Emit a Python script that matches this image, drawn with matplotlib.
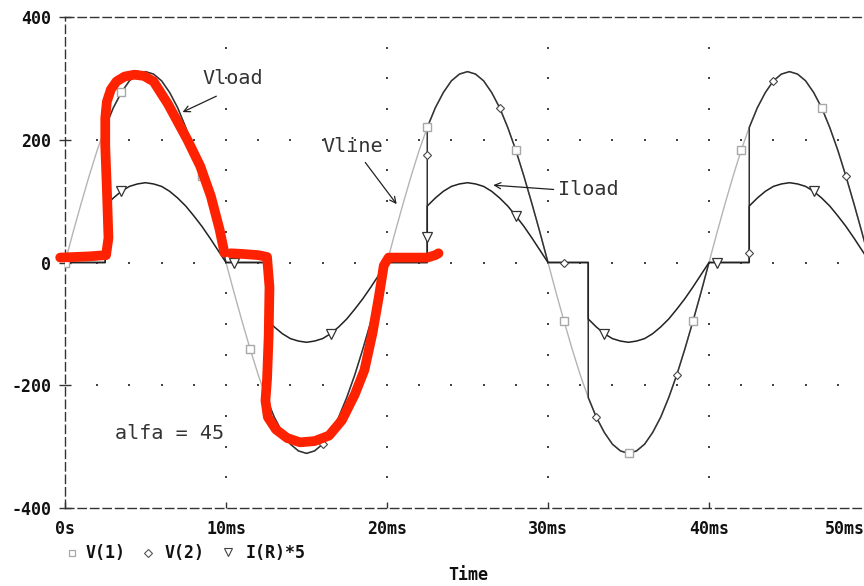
import matplotlib
matplotlib.use("Agg")
import matplotlib.pyplot as plt
import matplotlib.transforms as mtransforms
import numpy as np
from matplotlib.lines import Line2D

# ---------------- data ----------------
# time axis in ms
t_line = np.arange(0, 50.01, 0.5)
# V(1) = Vline  (volts)
v_line = [
    0, 49, 96, 141, 183, 220, 252, 277, 296, 307, 311, 307, 296, 277, 252, 220, 183, 141, 96, 49,
    0, -49, -96, -141, -183, -220, -252, -277, -296, -307, -311, -307, -296, -277, -252, -220, -183, -141, -96, -49,
    0, 49, 96, 141, 183, 220, 252, 277, 296, 307, 311, 307, 296, 277, 252, 220, 183, 141, 96, 49,
    0, -49, -96, -141, -183, -220, -252, -277, -296, -307, -311, -307, -296, -277, -252, -220, -183, -141, -96, -49,
    0, 49, 96, 141, 183, 220, 252, 277, 296, 307, 311, 307, 296, 277, 252, 220, 183, 141, 96, 49,
    0,
]

# load side: time points of each half cycle (the firing instant at 2.5 ms appears three times)
half_phase = [0.5, 1, 1.5, 2, 2.5, 2.5, 2.5, 3, 3.5, 4, 4.5, 5, 5.5, 6, 6.5,
              7, 7.5, 8, 8.5, 9, 9.5, 10]
t_load = [0.0] + [10 * k + p for k in range(5) for p in half_phase]

# V(2) = Vload (volts)
v_load = [
    0,
    0, 0, 0, 0, 0, 110, 220, 252, 277, 296, 307, 311, 307, 296, 277, 252, 220, 183, 141, 96, 49, 0,
    0, 0, 0, 0, 0, -110, -220, -252, -277, -296, -307, -311, -307, -296, -277, -252, -220, -183, -141, -96, -49, 0,
    0, 0, 0, 0, 0, 175, 220, 252, 277, 296, 307, 311, 307, 296, 277, 252, 220, 183, 141, 96, 49, 0,
    0, 0, 0, 0, 0, -110, -220, -252, -277, -296, -307, -311, -307, -296, -277, -252, -220, -183, -141, -96, -49, 0,
    0, 0, 0, 0, 0, 16, 220, 252, 277, 296, 307, 311, 307, 296, 277, 252, 220, 183, 141, 96, 49, 0,
]

# I(R)*5 = Iload
i_load = [
    0,
    0, 0, 0, 0, 0, 46, 92, 105, 116, 124, 128, 130, 128, 124, 116, 105, 92, 76, 59, 40, 20, 0,
    0, 0, 0, 0, 0, -46, -92, -105, -116, -124, -128, -130, -128, -124, -116, -105, -92, -76, -59, -40, -20, 0,
    0, 0, 0, 0, 0, 42, 92, 105, 116, 124, 128, 130, 128, 124, 116, 105, 92, 76, 59, 40, 20, 0,
    0, 0, 0, 0, 0, -46, -92, -105, -116, -124, -128, -130, -128, -124, -116, -105, -92, -76, -59, -40, -20, 0,
    0, 0, 0, 0, 0, 7, 92, 105, 116, 124, 128, 130, 128, 124, 116, 105, 92, 76, 59, 40, 20, 0,
]

# sample times carrying the trace markers
mark_v1 = [0, 3.5, 8.5, 11.5, 22.5, 28, 31, 35, 39, 42, 47]
mark_v2 = [(4.5, "on"), (16, "on"), (22.5, "mid"), (27, "on"), (31, "on"), (33, "on"),
           (38, "on"), (42.5, "mid"), (44, "on"), (48.5, "on")]
mark_i = [(3.5, "on"), (10.5, "on"), (16.5, "on"), (22.5, "mid"), (28, "on"),
          (33.5, "on"), (40.5, "on"), (46.5, "on")]

# hand-drawn red overlay (time ms, volts)
red1_t = [-0.3, 1.5, 2.55, 2.7, 2.6, 2.5, 2.5, 2.6, 2.85, 3.2, 3.7, 4.3, 4.9, 5.5,
          6.4, 7.6, 8.4, 9.06, 9.6, 9.9]
red1_v = [8, 10, 12, 40, 120, 190, 235, 262, 282, 295, 303, 306, 304, 295,
          258, 200, 157, 108, 54, 16]
red2_t = [10.3, 11.0, 12.0, 12.55, 12.7, 12.65, 12.55, 12.45, 12.6, 13.1, 13.8, 14.6,
          15.5, 16.4, 17.2, 18.0, 18.6, 19.1, 19.5, 19.8, 20.1, 21.0, 22.5, 23.0, 23.2]
red2_v = [15, 14, 12, 9, -40, -120, -190, -225, -252, -272, -286, -293,
          -291, -282, -257, -215, -175, -115, -55, -5, 8, 8, 8, 12, 15]

x_ticks = [0, 10, 20, 30, 40, 50]
x_labels = ["0s", "10ms", "20ms", "30ms", "40ms", "50ms"]
y_ticks = [-400, -200, 0, 200, 400]
y_labels = ["-400", "-200", "0", "200", "400"]

# ---------------- figure ----------------
W, H = 864, 586
fig = plt.figure(figsize=(W / 100, H / 100), dpi=100)
ax = fig.add_axes([65 / W, 1 - 508 / H, 805 / W, (508 - 17) / H])
ax.set_xlim(0, 50)
ax.set_ylim(-400, 400)

mono = "DejaVu Sans Mono"
frame_col = "#333333"
dash = (0, (6, 3))

for s in ["left", "top", "bottom"]:
    ax.spines[s].set_linestyle(dash)
    ax.spines[s].set_color(frame_col)
    ax.spines[s].set_linewidth(1.0)
ax.spines["right"].set_visible(False)

ax.set_xticks(x_ticks)
ax.set_xticklabels(x_labels)
ax.set_yticks(y_ticks)
ax.set_yticklabels(y_labels)
ax.tick_params(axis="x", direction="in", length=4, width=1, color=frame_col, pad=9)
ax.tick_params(axis="y", direction="inout", length=8, width=1, color=frame_col, pad=6)
for lab in ax.get_xticklabels() + ax.get_yticklabels():
    lab.set_fontfamily(mono)
    lab.set_fontweight("bold")
    lab.set_fontsize(12)
    lab.set_color("#111111")
# the last time label is pulled left so it fits on the page, as in the original
last = ax.get_xticklabels()[-1]
last.set_transform(last.get_transform() +
                   mtransforms.ScaledTranslation(-25 / 100, 0, fig.dpi_scale_trans))

# dotted grid: dots every 2 ms along major horizontal lines, every 50 along major vertical lines
gx, gy = [], []
for yv in [-200, 0, 200]:
    for xv in np.arange(2, 50.1, 2):
        gx.append(xv); gy.append(yv)
for xv in [10, 20, 30, 40]:
    for yv in np.arange(-350, 351, 50):
        gx.append(xv); gy.append(yv)
ax.scatter(gx, gy, s=1.5, marker="s", color="#444444", linewidths=0, zorder=1)

# ---------------- traces ----------------
t_load = np.array(t_load)
v_load = np.array(v_load)
i_load = np.array(i_load)
v_line = np.array(v_line)


def load_idx(t, which):
    hits = np.where(np.isclose(t_load, t))[0]
    if which == "mid" and len(hits) > 1:
        return hits[len(hits) // 2]
    return hits[-1]


ax.plot(t_line, v_line, color="#b4b4b4", lw=1.0, zorder=2)
ax.plot(t_load, v_load, color="#333333", lw=1.1, zorder=3)
ax.plot(t_load, i_load, color="#222222", lw=1.1, zorder=4)

i1 = [int(np.argmin(np.abs(t_line - t))) for t in mark_v1]
ax.plot(t_line[i1], v_line[i1], ls="none", marker="s", ms=5.5, mfc="white",
        mec="#a8a8a8", mew=1.0, zorder=5)
i2 = [load_idx(t, w) for t, w in mark_v2]
ax.plot(t_load[i2], v_load[i2], ls="none", marker="D", ms=4.0, mfc="white",
        mec="#444444", mew=0.8, zorder=6)
i3 = [load_idx(t, w) for t, w in mark_i]
ax.plot(t_load[i3], i_load[i3], ls="none", marker="v", ms=6.5, mfc="white",
        mec="#333333", mew=0.9, zorder=6)

# ---------------- annotations ----------------
txt_kw = dict(fontfamily=mono, fontsize=14.5, color="#333333", va="center", ha="left")
arr = dict(arrowstyle="->", color="#222222", lw=0.9, shrinkA=0, shrinkB=0,
           mutation_scale=11)
ax.text(8.55, 299, "Vload", **txt_kw)
ax.annotate("", xy=(7.3, 245), xytext=(9.4, 271), arrowprops=arr)
ax.text(16.0, 189, "Vline", **txt_kw)
ax.annotate("", xy=(20.6, 95), xytext=(18.65, 163), arrowprops=arr)
ax.text(30.6, 119, "Iload", **txt_kw)
ax.annotate("", xy=(26.6, 126), xytext=(30.35, 119), arrowprops=arr)
ax.text(3.1, -278, "alfa = 45", **txt_kw)

# red hand-drawn overlay
red_kw = dict(color="#ff2200", lw=7, solid_capstyle="round", solid_joinstyle="round",
              zorder=10, clip_on=False)
ax.plot(red1_t, red1_v, **red_kw)
ax.plot(red2_t, red2_v, **red_kw)

# ---------------- legend row & axis title ----------------
def fy(py):
    return 1 - py / H

leg_kw = dict(fontfamily=mono, fontweight="bold", fontsize=12, color="#111111",
              va="center", ha="left")
fig.add_artist(Line2D([72 / W], [fy(553)], marker="s", ms=4.5, mfc="white",
                      mec="#a8a8a8", mew=0.9, ls="none"))
fig.text(86 / W, fy(553), "V(1)", **leg_kw)
fig.add_artist(Line2D([148 / W], [fy(553)], marker="D", ms=3.8, mfc="white",
                      mec="#555555", mew=0.8, ls="none"))
fig.text(165 / W, fy(553), "V(2)", **leg_kw)
fig.add_artist(Line2D([228 / W], [fy(552)], marker="v", ms=5.5, mfc="white",
                      mec="#444444", mew=0.8, ls="none"))
fig.text(246 / W, fy(553), "I(R)*5", **leg_kw)
fig.text(468 / W, fy(575), "Time", fontfamily=mono, fontweight="bold", fontsize=12,
         color="#111111", ha="center", va="center")

fig.savefig("out.png", dpi=100)
